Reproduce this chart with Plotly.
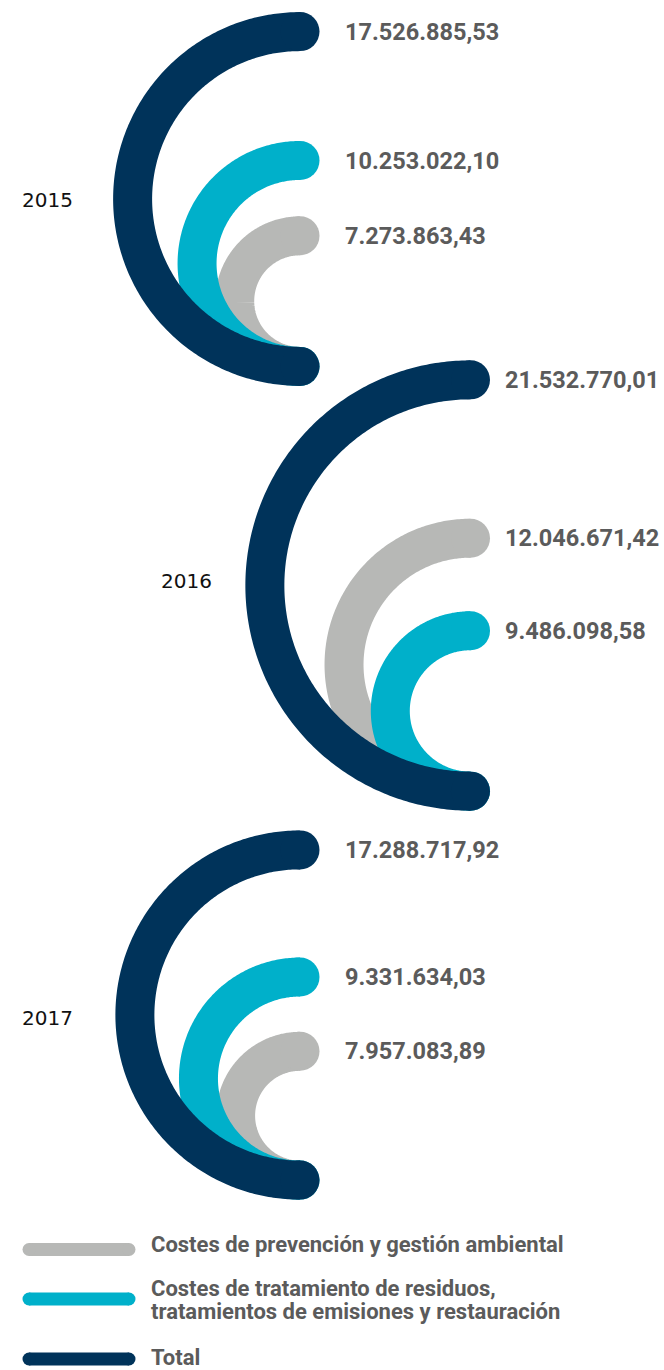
import numpy as np
import plotly.graph_objects as go

# ---------------- data ----------------
years = ["2015", "2016", "2017"]
series_names = [
    "Costes de prevención y gestión ambiental",
    "Costes de tratamiento de residuos, tratamientos de emisiones y restauración",
    "Total",
]
prevencion = [7273863.43, 12046671.42, 7957083.89]
tratamiento = [10253022.10, 9486098.58, 9331634.03]
total = [17526885.53, 21532770.01, 17288717.92]

# ---------------- style / layout ----------------
W, H = 664, 1370
colors = ["#b7b8b6", "#00b0ca", "#00335a"]
text_grey = "#5b5b5b"
ARC_W = 39                      # stroke width in px
K = 9.55e-6                     # px of radius per euro of the total
INNER_FRAC = [0.615, 0.39]      # radius of the larger / smaller component, relative to total
group_cx = [300, 470.5, 300]    # right end (centre x) of each group's arcs
group_cy = [199, 585.5, 1015]   # vertical centre of each group's total arc
year_x = [20, 159, 20]
year_y = [200, 580.5, 1018]
label_gap = [43, 32, 43]


def fmt_es(v):
    s = f"{v:,.2f}"
    return s.replace(",", "X").replace(".", ",").replace("X", ".")


def add_round_line(fig, xs, ys, color, width):
    fig.add_trace(go.Scatter(x=xs, y=ys, mode="lines",
                             line=dict(color=color, width=width, simplify=False),
                             hoverinfo="skip", showlegend=False))
    fig.add_trace(go.Scatter(x=[xs[0], xs[-1]], y=[ys[0], ys[-1]], mode="markers",
                             marker=dict(color=color, size=width, line=dict(width=0)),
                             hoverinfo="skip", showlegend=False))


fig = go.Figure()
annotations = []
theta = np.linspace(0, np.pi, 241)

for g, year in enumerate(years):
    comps = [prevencion[g], tratamiento[g]]
    cx, cy = group_cx[g], group_cy[g]
    r_total = K * total[g]
    bottom = cy + r_total
    # inner arcs: sized by their rank within the year, relative to the total arc
    order = sorted(range(2), key=lambda i: -comps[i])
    radii = [0.0, 0.0]
    for rank, idx in enumerate(order):
        radii[idx] = r_total * INNER_FRAC[rank]
    vals = comps + [total[g]]
    rads = radii + [r_total]
    for s, (v, r) in enumerate(zip(vals, rads)):
        ccy = bottom - r
        xs = cx - r * np.sin(theta)
        ys = ccy - r * np.cos(theta)
        add_round_line(fig, xs, ys, colors[s], ARC_W)
        annotations.append(dict(
            x=cx + label_gap[g], y=ccy - r, xref="x", yref="y",
            text=fmt_es(v), showarrow=False, xanchor="left", yanchor="middle",
            font=dict(family="Roboto", size=23.5, color=text_grey, weight="bold")))
    annotations.append(dict(
        x=year_x[g], y=year_y[g], xref="x", yref="y", text=year, showarrow=False,
        xanchor="left", yanchor="middle",
        font=dict(family="DejaVu Sans", size=20, color="#111111")))

# ---------------- legend (drawn manually) ----------------
leg_y = [1249.5, 1299, 1359]
leg_line_y = [[1244.5], [1288, 1311], [1357]]
for i, name in enumerate(series_names):
    add_round_line(fig, [29, 129], [leg_y[i], leg_y[i]], colors[i], 13)
    lines = name.replace(", ", ",\n").split("\n")
    for j, line in enumerate(lines):
        annotations.append(dict(
            x=149, y=leg_line_y[i][j], xref="x", yref="y",
            text=line, showarrow=False,
            xanchor="left", yanchor="middle", align="left",
            font=dict(family="Roboto", size=22, color=text_grey, weight="bold")))

fig.update_layout(
    width=W, height=H,
    margin=dict(l=0, r=0, t=0, b=0),
    paper_bgcolor="white", plot_bgcolor="white",
    showlegend=False,
    annotations=annotations,
    xaxis=dict(range=[0, W], visible=False, fixedrange=True),
    yaxis=dict(range=[H, 0], visible=False, fixedrange=True),
)

fig.write_html("out.html", config={"displayModeBar": False},
               post_script="document.body.style.margin='0px';")
